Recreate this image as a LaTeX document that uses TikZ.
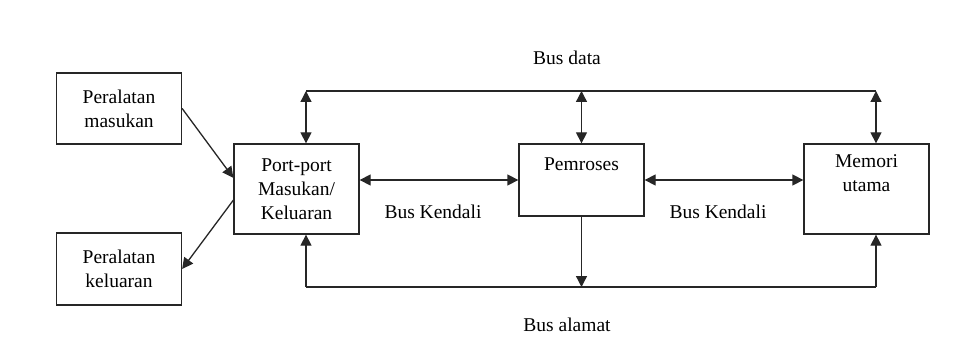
\documentclass[tikz,border=0pt]{standalone}
\usepackage{fontspec}
\setmainfont{Liberation Serif}
\usetikzlibrary{arrows.meta,calc,positioning}

\tikzset{
  unit/.style={draw=black!85, line width=1.3pt, rectangle, align=center,
    minimum width=125pt, inner sep=0pt},
  bus/.style={draw=black!85, line width=1.3pt},
  tip/.style={bus, -{Triangle[length=11pt,width=11pt]}},
  dbl/.style={bus, {Triangle[length=11pt,width=11pt]}-{Triangle[length=11pt,width=11pt]}},
}

\begin{document}
\begin{tikzpicture}[x=1pt, y=-1pt, font=\fontsize{19.5}{24}\selectfont]
    \useasboundingbox (0,0) rectangle (963,358);

    % LEFT: peripheral devices
    \node[unit, minimum height=71pt] (in) at (119,108.5) {Peralatan\\masukan};
    \node[unit, minimum height=72pt] (out) at (119,269) {Peralatan\\keluaran};

    % MIDDLE: ports, processor, memory
    \node[unit, minimum height=90pt] (pio) at (296.5,189) {Port-port\\Masukan/\\Keluaran};
    \node[unit, minimum height=72pt] (cpu) at (581.5,180) {Pemroses\\ \strut};
    \node[unit, minimum height=90pt] (mem) at (866.5,189) {Memori\\utama\\ \strut};

    % data bus on top
    \coordinate (dl) at (306,91);
    \coordinate (dr) at (876,91);
    \draw[bus] (dl) -- (dr);
    \draw[dbl] (dl) -- (dl |- pio.north);
    \draw[dbl] (cpu.north |- dl) -- (cpu.north);
    \draw[dbl] (dr) -- (dr |- mem.north);
    \node (datalbl) at (567,58) {Bus data};

    % address bus below
    \coordinate (al) at (306,287);
    \coordinate (ar) at (876,287);
    \draw[bus] (al) -- (ar);
    \draw[tip] (al) -- (al |- pio.south);
    \draw[tip] (cpu.south) -- (cpu.south |- al);
    \draw[tip] (ar) -- (ar |- mem.south);
    \node (addrlbl) at (567,325) {Bus alamat};

    % control bus
    \draw[dbl] (cpu.west -| pio.east) -- (cpu.west);
    \draw[dbl] (cpu.east) -- (cpu.east -| mem.west);
    \node (ctl1) at (433,212) {Bus Kendali};
    \node (ctl2) at (718,212) {Bus Kendali};

    % devices to and from the ports
    \draw[tip] (in.east) -- (pio.170);
    \draw[tip] (pio.190) -- (out.east);
\end{tikzpicture}
\end{document}
